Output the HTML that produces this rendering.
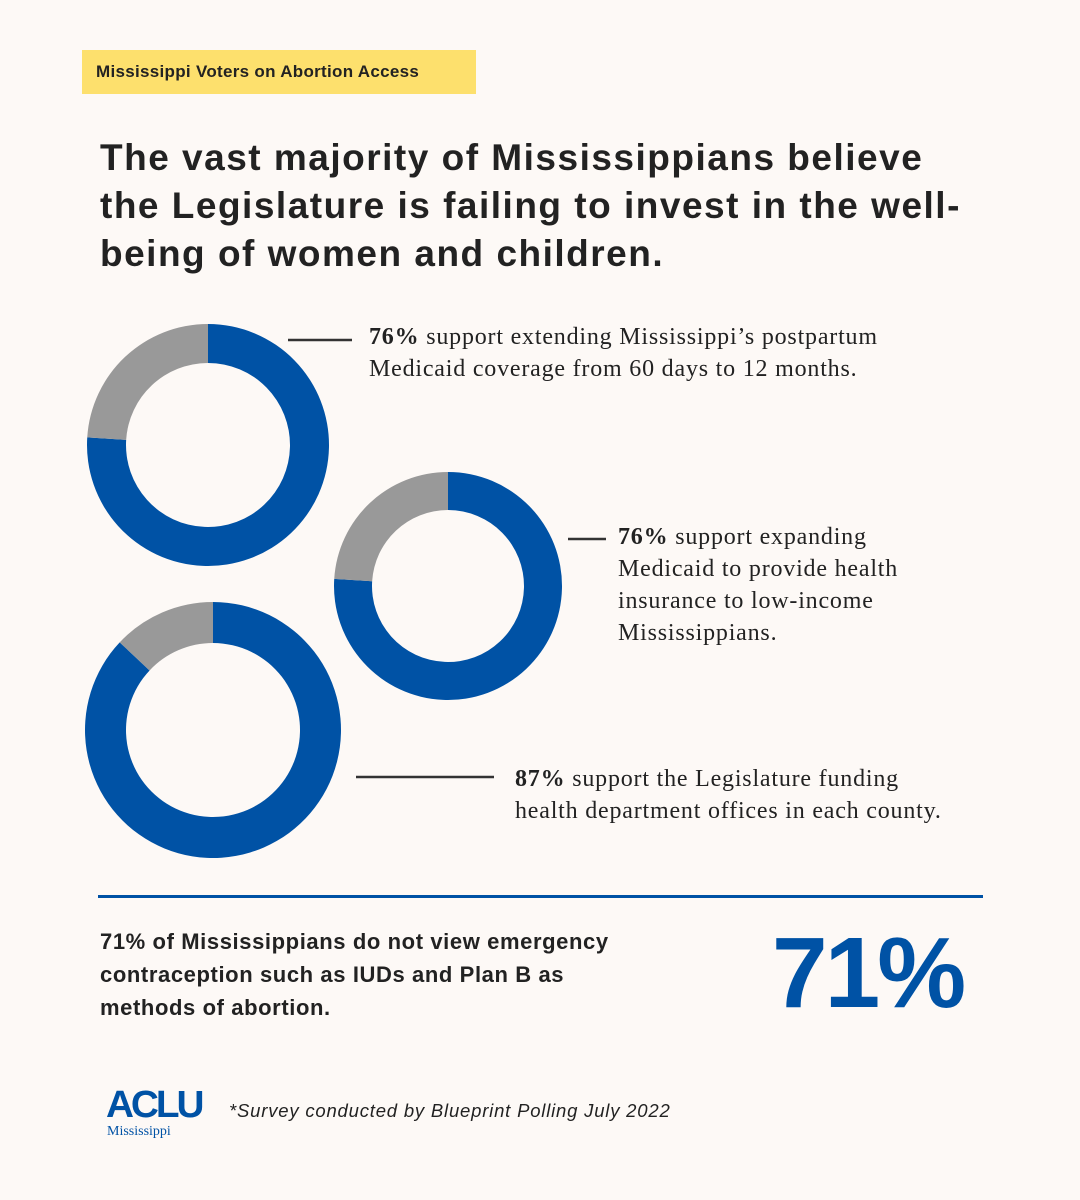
<!DOCTYPE html>
<html><head><meta charset="utf-8"><style>
body{margin:0;width:1080px;height:1200px;background:#fdf9f6;position:relative;overflow:hidden;font-family:"Liberation Sans",sans-serif;color:#222}
.abs{position:absolute}
.serif{font-family:"Liberation Serif",serif;font-size:24px;letter-spacing:0.8px;line-height:32px;color:#222;white-space:nowrap}
</style></head><body>
<div class="abs" style="left:82px;top:50px;width:394px;height:44px;background:#fde06d;font-weight:bold;font-size:17px;letter-spacing:0.3px;line-height:44px;padding-left:14px;box-sizing:border-box">Mississippi Voters on Abortion Access</div>
<div class="abs" style="left:100px;top:134px;white-space:nowrap;font-weight:bold;font-size:37px;letter-spacing:1.5px;line-height:48px;color:#222">The vast majority of Mississippians believe<br>the Legislature is failing to invest in the well-<br>being of women and children.</div>
<svg class="abs" id="chart" style="left:0;top:0" width="1080" height="900"></svg>
<div class="abs serif" style="left:369px;top:321px"><b>76%</b> support extending Mississippi’s postpartum<br>Medicaid coverage from 60 days to 12 months.</div>
<div class="abs serif" style="left:618px;top:521px"><b>76%</b> support expanding<br>Medicaid to provide health<br>insurance to low-income<br>Mississippians.</div>
<div class="abs serif" style="left:515px;top:763px"><b>87%</b> support the Legislature funding<br>health department offices in each county.</div>
<div class="abs" style="left:98px;top:895px;width:885px;height:3px;background:#0052a5"></div>
<div class="abs" style="left:100px;top:925px;white-space:nowrap;font-weight:bold;font-size:22px;letter-spacing:0.6px;line-height:33px">71% of Mississippians do not view emergency<br>contraception such as IUDs and Plan B as<br>methods of abortion.</div>
<div class="abs" style="left:772px;top:918px;font-weight:bold;font-size:100px;line-height:110px;color:#0052a5;letter-spacing:-3px">71%</div>
<div class="abs" style="left:106px;top:1086px;color:#0052a5">
<div style="font-weight:900;font-size:38px;line-height:38px;letter-spacing:-3px;transform:scaleX(1.02);transform-origin:left">ACLU</div>
<div style="font-family:'Liberation Serif',serif;font-size:14px;line-height:16px;margin-left:1px">Mississippi</div></div>
<div class="abs" style="left:229px;top:1100px;font-style:italic;font-size:18.5px;letter-spacing:0.8px">*Survey conducted by Blueprint Polling July 2022</div>
<script>
const questions=["postpartum","expansion","health-offices"];
const support=[76,76,87];
const geom=[{cx:208,cy:445,ro:121,ri:82},{cx:448,cy:586,ro:114,ri:76},{cx:213,cy:730,ro:128,ri:87}];
const leaders=[[288,340,352,340],[568,539,606,539],[356,777,494,777]];
const svg=document.getElementById('chart');
const NS='http://www.w3.org/2000/svg';
function pt(cx,cy,r,f){const a=f*2*Math.PI-Math.PI/2;return [cx+r*Math.cos(a),cy+r*Math.sin(a)];}
function arc(g,f0,f1){const [x0,y0]=pt(g.cx,g.cy,g.ro,f0),[x1,y1]=pt(g.cx,g.cy,g.ro,f1),[x2,y2]=pt(g.cx,g.cy,g.ri,f1),[x3,y3]=pt(g.cx,g.cy,g.ri,f0);const l=(f1-f0)>0.5?1:0;
return `M${x0},${y0}A${g.ro},${g.ro} 0 ${l} 1 ${x1},${y1}L${x2},${y2}A${g.ri},${g.ri} 0 ${l} 0 ${x3},${y3}Z`;}
support.forEach((v,i)=>{const g=geom[i];const f=v/100;
const p1=document.createElementNS(NS,'path');p1.setAttribute('d',arc(g,0,f));p1.setAttribute('fill','#0052a5');

svg.appendChild(p1);
const p2=document.createElementNS(NS,'path');p2.setAttribute('d',arc(g,f,1));p2.setAttribute('fill','#999999');

svg.appendChild(p2);
const l=leaders[i];const ln=document.createElementNS(NS,'line');ln.setAttribute('x1',l[0]);ln.setAttribute('y1',l[1]);ln.setAttribute('x2',l[2]);ln.setAttribute('y2',l[3]);ln.setAttribute('stroke','#333');ln.setAttribute('stroke-width','2.5');

svg.appendChild(ln);});
</script>
</body></html>
